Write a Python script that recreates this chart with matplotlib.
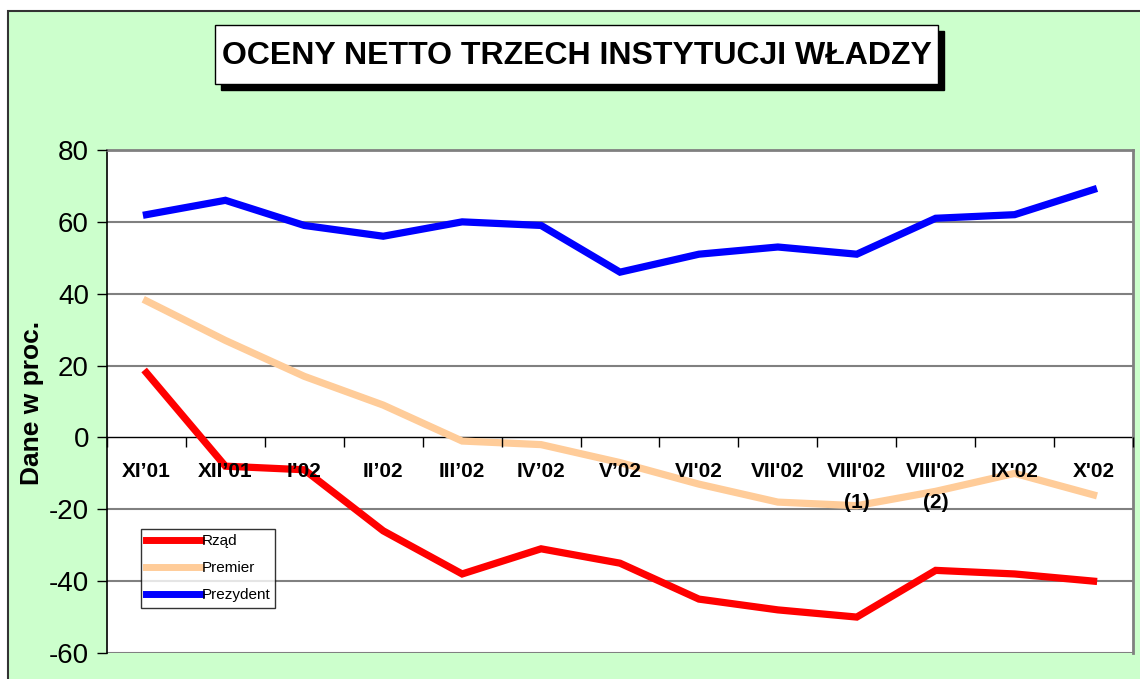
import matplotlib
matplotlib.use("Agg")
import matplotlib.pyplot as plt
from matplotlib.patches import Rectangle

plt.rcParams['font.family'] = ['Liberation Sans', 'DejaVu Sans']
plt.rcParams['axes.unicode_minus'] = False

categories = ["XI\u201901", "XII\u201901", "I\u201902", "II\u201902", "III\u201902", "IV\u201902",
              "V\u201902", "VI'02", "VII'02", "VIII'02\n(1)", "VIII'02\n(2)", "IX'02", "X'02"]
rzad = [18, -8, -9, -26, -38, -31, -35, -45, -48, -50, -37, -38, -40]
premier = [38, 27, 17, 9, -1, -2, -7, -13, -18, -19, -15, -10, -16]
prezydent = [62, 66, 59, 56, 60, 59, 46, 51, 53, 51, 61, 62, 69]
series_names = ["Rząd", "Premier", "Prezydent"]
yticks = [-60, -40, -20, 0, 20, 40, 60, 80]

W, H = 1140, 679
fig = plt.figure(figsize=(W / 100, H / 100), dpi=100)
fig.patch.set_facecolor('white')

# green frame with black border
fig.patches.append(Rectangle((8 / W, -0.2), 1.2, 1.2 - 11 / H, transform=fig.transFigure,
                             facecolor='#CCFFCC', edgecolor='#333333', linewidth=1.5, zorder=0))

# title box with shadow
bx0, by0, bx1, by1 = 215, 25, 938, 84
off = 6
fig.patches.append(Rectangle(((bx0 + off) / W, 1 - (by1 + off) / H), (bx1 - bx0) / W, (by1 - by0) / H,
                             transform=fig.transFigure, facecolor='black', edgecolor='black', zorder=1))
fig.patches.append(Rectangle((bx0 / W, 1 - by1 / H), (bx1 - bx0) / W, (by1 - by0) / H,
                             transform=fig.transFigure, facecolor='white', edgecolor='black',
                             linewidth=1, zorder=2))
fig.text((bx0 + bx1) / 2 / W, 1 - (by0 + by1) / 2 / H - 0.002, "OCENY NETTO TRZECH INSTYTUCJI WŁADZY",
         ha='center', va='center', fontsize=23, fontweight='bold', zorder=3)

left, right, top, bottom = 107, 1133, 150, 653
ax = fig.add_axes([left / W, 1 - bottom / H, (right - left) / W, (bottom - top) / H])
ax.set_facecolor('white')
ax.set_zorder(5)
ax.set_axisbelow(False)

x = list(range(len(categories)))
ax.plot(x, rzad, color='#FF0000', lw=5.2, label=series_names[0], solid_joinstyle='miter', zorder=2)
ax.plot(x, premier, color='#FFCC99', lw=5.2, label=series_names[1], solid_joinstyle='miter', zorder=2)
ax.plot(x, prezydent, color='#0000FF', lw=5.2, label=series_names[2], solid_joinstyle='miter', zorder=2)

ax.set_xlim(-0.5, len(categories) - 0.5)
ax.set_ylim(-60, 80)
ax.set_yticks(yticks)
ax.tick_params(axis='y', labelsize=20, length=7, width=1, direction='out', pad=6)
for g in yticks:
    if g == 0:
        continue
    ax.axhline(g, color='#808080', lw=1.5, zorder=1)

# x axis at zero
ax.spines['bottom'].set_position(('data', 0))
ax.spines['bottom'].set_color('black')
ax.spines['bottom'].set_linewidth(1)
ax.spines['bottom'].set_zorder(1.5)
ax.set_xticks([i - 0.5 for i in range(len(categories) + 1)])
ax.set_xticklabels([])
ax.tick_params(axis='x', which='major', length=7, width=1, direction='out', color='black')
ax.set_xticks(x, minor=True)
ax.set_xticklabels(categories, minor=True, fontsize=15, fontweight='bold', linespacing=1.75)
ax.tick_params(axis='x', which='minor', length=0, pad=18)

ax.spines['left'].set_color('black')
ax.spines['left'].set_linewidth(1.2)
for s in ('top', 'right'):
    ax.spines[s].set_color('#808080')
    ax.spines[s].set_linewidth(2)

ax.set_ylabel("Dane w proc.", fontsize=19, fontweight='bold')
ax.yaxis.set_label_coords((44 - left) / (right - left), 1 - (403 - top) / (bottom - top))

leg = ax.legend(loc='upper left', bbox_to_anchor=((141 - left) / (right - left), 1 - (529 - top) / (bottom - top)),
                frameon=True, fancybox=False, fontsize=11, handlelength=3.6, handletextpad=0.0,
                labelspacing=0.85, borderpad=0.35, borderaxespad=0)
leg.set_zorder(6)
leg.get_frame().set_edgecolor('black')
leg.get_frame().set_linewidth(1)
for h in leg.get_lines():
    h.set_linewidth(5)

fig.savefig("out.png", dpi=100, facecolor=fig.get_facecolor())
